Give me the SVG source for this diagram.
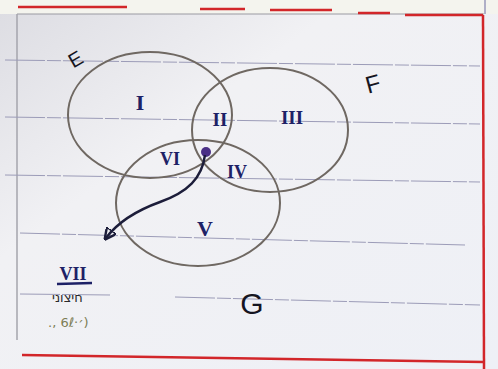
<svg xmlns="http://www.w3.org/2000/svg" width="498" height="369" viewBox="0 0 498 369">
  <defs>
    <linearGradient id="paper" x1="0" y1="0" x2="1" y2="1">
      <stop offset="0" stop-color="#dcdce2"/>
      <stop offset="0.35" stop-color="#f1f1f4"/>
      <stop offset="1" stop-color="#eef0f6"/>
    </linearGradient>
    <marker id="arrow" viewBox="0 0 10 10" refX="8" refY="5" markerWidth="5" markerHeight="5" orient="auto-start-reverse" markerUnits="strokeWidth">
      <path d="M0,0 L10,5 L0,10 Z" fill="none" stroke="#1c1d3a" stroke-width="2"/>
    </marker>
    <style>
      .rule { stroke: #9c9cb8; stroke-width: 1; fill: none; stroke-dasharray: 40 2 14 2; }
      .red { stroke: #d2262a; stroke-width: 2.5; fill: none; }
      .circle { fill: none; stroke: #6f6862; stroke-width: 2; }
      .num { font-family: "Liberation Serif", serif; font-weight: bold; fill: #1d2166; text-anchor: middle; }
      .set { font-family: "Liberation Sans", sans-serif; fill: #15151f; text-anchor: middle; }
      .note { font-family: "DejaVu Sans", "Liberation Sans", sans-serif; fill: #2a2a2a; }
    </style>
  </defs>

  <!-- paper -->
  <rect x="0" y="0" width="498" height="369" fill="url(#paper)"/>
  <rect x="0" y="0" width="498" height="14" fill="#f4f4ee"/>
  <line x1="17" y1="14" x2="484" y2="14" stroke="#9a9aa2" stroke-width="1"/>
  <line x1="17" y1="14" x2="17" y2="340" stroke="#a4a4ac" stroke-width="1.5"/>
  <line x1="485" y1="0" x2="485" y2="14" stroke="#6a6aa0" stroke-width="1"/>

  <!-- top red fragments -->
  <line class="red" x1="18" y1="7" x2="127" y2="7"/>
  <line class="red" x1="200" y1="9" x2="245" y2="9"/>
  <line class="red" x1="270" y1="10" x2="332" y2="10"/>
  <line class="red" x1="358" y1="13" x2="390" y2="13"/>
  <line class="red" x1="405" y1="15" x2="483" y2="15"/>
  <!-- right and bottom red border -->
  <line class="red" x1="483" y1="15" x2="484" y2="369"/>
  <line class="red" x1="22" y1="355" x2="484" y2="362"/>

  <!-- ruled lines -->
  <line class="rule" x1="5" y1="60" x2="480" y2="66"/>
  <line class="rule" x1="5" y1="117" x2="480" y2="124"/>
  <line class="rule" x1="5" y1="175" x2="480" y2="182"/>
  <line class="rule" x1="20" y1="233" x2="465" y2="245"/>
  <line class="rule" x1="20" y1="294" x2="110" y2="295"/>
  <line class="rule" x1="175" y1="297" x2="480" y2="305"/>

  <!-- circles -->
  <g id="circle-E"><ellipse class="circle" cx="150" cy="115" rx="82" ry="63"/></g>
  <g id="circle-F"><ellipse class="circle" cx="270" cy="130" rx="78" ry="62"/></g>
  <g id="circle-G"><ellipse class="circle" cx="198" cy="203" rx="82" ry="63"/></g>

  <!-- set labels -->
  <g id="label-E"><text class="set" x="76" y="66" font-size="20" transform="rotate(-30 76 60)">E</text></g>
  <g id="label-F"><text class="set" x="373" y="92" font-size="24" transform="rotate(-15 373 84)">F</text></g>
  <g id="label-G"><text class="set" x="252" y="314" font-size="30">G</text></g>

  <!-- region labels -->
  <g id="region-I"><text class="num" x="140" y="110" font-size="22">I</text></g>
  <g id="region-II"><text class="num" x="220" y="126" font-size="19">II</text></g>
  <g id="region-III"><text class="num" x="292" y="124" font-size="19">III</text></g>
  <g id="region-VI"><text class="num" x="170" y="165" font-size="18">VI</text></g>
  <g id="region-IV"><text class="num" x="237" y="178" font-size="18">IV</text></g>
  <g id="region-V"><text class="num" x="205" y="236" font-size="22">V</text></g>
  <g id="region-VII">
    <text class="num" x="73" y="280" font-size="18">VII</text>
    <line x1="57" y1="284" x2="92" y2="283" stroke="#1d2166" stroke-width="2.5"/>
  </g>

  <!-- center dot -->
  <g id="center-dot"><circle cx="206" cy="152" r="5" fill="#4a2f86"/></g>

  <!-- connectors -->
  <g id="connectors">
    <path d="M205,155 C202,178 188,192 160,202 C135,211 118,222 106,238" fill="none" stroke="#1c1d3a" stroke-width="2.4" marker-end="url(#arrow)"/>
  </g>

  <!-- notes -->
  <g id="note">
    <text class="note" x="52" y="302" font-size="13">חיצוני</text>
    <text class="note" x="48" y="327" font-size="13" style="fill:#7d7d55">., 6ℓ·׳)</text>
  </g>
</svg>
